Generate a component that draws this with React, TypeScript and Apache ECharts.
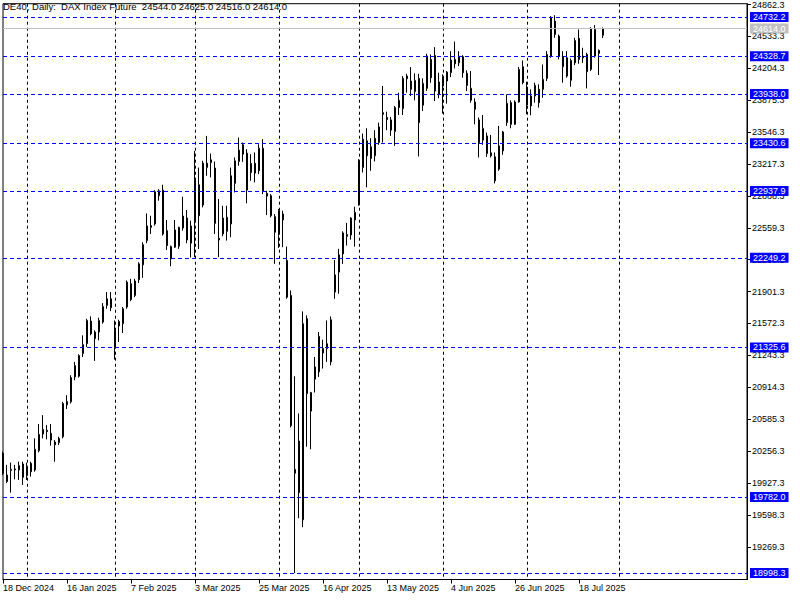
import React, { useEffect, useRef } from "react";
import * as echarts from "echarts";

// ---- Data ----
const headerText = "DE40, Daily:  DAX Index Future  24544.0 24625.0 24516.0 24614.0";

// Trading days per month (category axis), including empty future days at the right
const dec2024 = [18, 19, 20, 23, 27, 30];
const jan2025 = [2, 3, 6, 7, 8, 9, 10, 13, 14, 15, 16, 17, 20, 21, 22, 23, 24, 27, 28, 29, 30, 31];
const feb2025 = [3, 4, 5, 6, 7, 10, 11, 12, 13, 14, 17, 18, 19, 20, 21, 24, 25, 26, 27, 28];
const mar2025 = [3, 4, 5, 6, 7, 10, 11, 12, 13, 14, 17, 18, 19, 20, 21, 24, 25, 26, 27, 28, 31];
const apr2025 = [1, 2, 3, 4, 7, 8, 9, 10, 11, 14, 15, 16, 17, 22, 23, 24, 25, 28, 29, 30];
const may2025 = [2, 5, 6, 7, 8, 9, 12, 13, 14, 15, 16, 19, 20, 21, 22, 23, 26, 27, 28, 29, 30];
const jun2025 = [2, 3, 4, 5, 6, 9, 10, 11, 12, 13, 16, 17, 18, 19, 20, 23, 24, 25, 26, 27, 30];
const jul2025 = [1, 2, 3, 4, 7, 8, 9, 10, 11, 14, 15, 16, 17, 18, 21, 22, 23, 24, 25, 28, 29, 30, 31];
const aug2025 = [1, 4, 5, 6, 7, 8, 11, 12, 13, 14, 15, 18, 19, 20, 21, 22, 25, 26, 27, 28, 29];
const sep2025 = [1, 2, 3, 4, 5, 8, 9, 10, 11, 12, 15, 16];

const monthGroups: [number, string, number[]][] = [
  [2024, "Dec", dec2024],
  [2025, "Jan", jan2025],
  [2025, "Feb", feb2025],
  [2025, "Mar", mar2025],
  [2025, "Apr", apr2025],
  [2025, "May", may2025],
  [2025, "Jun", jun2025],
  [2025, "Jul", jul2025],
  [2025, "Aug", aug2025],
  [2025, "Sep", sep2025],
];

// Daily candles [open, high, low, close]
const ohlc: number[][] = [
  [20233, 20250, 20010, 20027],
  [20010, 20113, 19925, 19942],
  [20055, 20137, 19828, 20068],
  [20062, 20113, 19965, 20072],
  [20062, 20147, 19959, 20106],
  [20123, 20147, 19907, 19986],
  [20003, 20137, 19959, 20096],
  [20130, 20147, 19993, 20044],
  [20061, 20387, 20044, 20274],
  [20260, 20535, 20243, 20428],
  [20432, 20627, 20387, 20480],
  [20470, 20524, 20377, 20458],
  [20439, 20535, 20312, 20370],
  [20350, 20370, 20147, 20322],
  [20343, 20404, 20319, 20387],
  [20404, 20764, 20387, 20747],
  [20733, 20833, 20689, 20768],
  [20764, 21039, 20747, 21015],
  [21021, 21176, 20987, 21138],
  [21028, 21255, 21015, 21241],
  [21262, 21450, 21227, 21354],
  [21364, 21621, 21330, 21604],
  [21597, 21646, 21450, 21467],
  [21416, 21501, 21186, 21484],
  [21484, 21632, 21399, 21604],
  [21587, 21783, 21570, 21748],
  [21759, 21896, 21724, 21827],
  [21827, 21896, 21700, 21735],
  [21323, 21604, 21200, 21502],
  [21546, 21611, 21381, 21594],
  [21570, 21742, 21474, 21724],
  [21742, 22016, 21724, 21999],
  [21982, 22033, 21803, 21820],
  [21861, 22033, 21844, 22010],
  [22023, 22204, 21990, 22187],
  [22177, 22410, 22043, 22386],
  [22427, 22708, 22400, 22578],
  [22581, 22684, 22496, 22564],
  [22599, 22948, 22581, 22931],
  [22890, 22959, 22839, 22941],
  [22948, 23003, 22479, 22496],
  [22530, 22640, 22331, 22376],
  [22365, 22376, 22163, 22239],
  [22359, 22640, 22352, 22537],
  [22369, 22571, 22341, 22564],
  [22557, 22880, 22530, 22681],
  [22660, 22743, 22400, 22434],
  [22400, 22633, 22252, 22578],
  [22626, 23353, 22256, 23061],
  [23003, 23181, 22341, 22684],
  [22794, 23250, 22770, 23226],
  [23181, 23507, 23096, 23226],
  [23260, 23325, 23079, 23233],
  [23175, 23243, 22496, 22605],
  [22451, 22856, 22256, 22434],
  [22496, 22787, 22472, 22660],
  [22667, 22787, 22427, 22523],
  [22599, 23181, 22462, 23096],
  [23017, 23284, 22924, 23250],
  [23243, 23490, 23199, 23360],
  [23415, 23439, 23240, 23319],
  [23329, 23370, 22811, 22948],
  [23223, 23319, 23044, 23130],
  [23123, 23336, 23027, 23226],
  [23147, 23421, 23113, 23380],
  [23380, 23473, 22907, 22941],
  [22914, 22941, 22691, 22886],
  [22890, 22907, 22667, 22684],
  [22674, 22701, 22187, 22513],
  [22506, 22753, 22352, 22736],
  [22701, 22736, 22359, 22640],
  [22222, 22366, 21827, 21844],
  [21862, 21913, 20500, 20518],
  [20027, 21028, 18998, 20068],
  [20360, 20644, 19564, 19828],
  [19547, 21697, 19472, 21570],
  [21622, 21656, 20301, 20850],
  [20668, 20867, 20274, 20860],
  [20998, 21227, 20860, 21124],
  [21073, 21484, 21021, 21440],
  [21313, 21405, 21107, 21268],
  [21313, 21604, 21176, 21364],
  [21176, 21645, 21141, 21611],
  [21896, 22228, 21827, 22074],
  [22102, 22342, 21879, 22280],
  [22290, 22523, 22187, 22506],
  [22489, 22610, 22376, 22472],
  [22485, 22667, 22437, 22660],
  [22640, 22777, 22365, 22719],
  [22794, 23267, 22787, 23250],
  [23181, 23531, 23130, 23473],
  [23456, 23586, 22976, 23302],
  [23394, 23483, 23147, 23274],
  [23302, 23566, 23243, 23483],
  [23439, 23644, 23415, 23600],
  [23747, 24022, 23439, 23730],
  [23696, 23757, 23566, 23675],
  [23672, 23703, 23507, 23566],
  [23552, 23816, 23404, 23799],
  [23799, 23953, 23723, 23874],
  [23788, 24124, 23723, 24100],
  [24124, 24148, 23953, 24097],
  [24073, 24217, 23919, 23987],
  [23963, 24152, 23874, 24080],
  [24100, 24148, 23295, 23644],
  [23823, 24100, 23764, 24049],
  [23997, 24354, 23970, 24330],
  [24296, 24347, 24056, 24107],
  [24337, 24423, 23867, 23970],
  [23936, 24159, 23895, 24063],
  [24021, 24142, 23737, 24117],
  [24073, 24176, 23840, 24165],
  [24159, 24381, 24114, 24289],
  [24296, 24480, 24203, 24251],
  [24261, 24381, 24227, 24330],
  [24323, 24340, 24107, 24159],
  [24152, 24183, 23970, 24028],
  [23997, 24176, 23850, 23874],
  [23857, 23895, 23627, 23782],
  [23672, 23696, 23284, 23439],
  [23463, 23723, 23415, 23586],
  [23507, 23542, 23291, 23326],
  [23332, 23517, 23284, 23302],
  [23291, 23336, 23017, 23044],
  [23164, 23610, 23147, 23404],
  [23353, 23559, 23312, 23548],
  [23644, 23936, 23610, 23843],
  [23850, 23874, 23586, 23627],
  [23627, 23874, 23620, 23857],
  [23857, 24217, 23850, 24193],
  [24220, 24285, 24039, 24056],
  [24011, 24066, 23730, 23826],
  [23816, 23987, 23720, 23919],
  [23919, 24056, 23850, 24028],
  [23987, 24039, 23799, 23850],
  [23987, 24244, 23901, 24090],
  [24100, 24381, 24073, 24347],
  [24330, 24742, 24313, 24731],
  [24690, 24752, 24519, 24553],
  [24536, 24553, 24296, 24330],
  [24220, 24381, 24056, 24320],
  [24313, 24381, 24107, 24124],
  [24080, 24306, 24015, 24285],
  [24261, 24519, 24237, 24491],
  [24512, 24604, 24251, 24296],
  [24330, 24416, 24261, 24313],
  [24347, 24364, 23997, 24169],
  [24193, 24628, 24176, 24615],
  [24604, 24649, 24313, 24330],
  [24358, 24399, 24135, 24388],
  [24544, 24625, 24516, 24614],
];

// Price axis tick labels
const yTickLabels = [
  19269.3, 19598.3, 19927.3, 20256.3, 20585.3, 20914.3, 21243.3, 21572.3, 21901.3,
  22230.3, 22559.3, 22888.3, 23217.3, 23546.3, 23875.3, 24204.3, 24533.3, 24862.3,
];
const yMin = 18931.7;
const yMax = 24870.5;

// Horizontal levels (blue dashed) and current price (gray)
const levels = [24732.2, 24328.7, 23938.0, 23430.6, 22937.9, 22249.2, 21325.6, 19782.0, 18998.3];
const currentPrice = 24614.0;

const labelEvery = 16;
const lastLabelIndex = 144;
const lastGridIndex = 160; // month separators drawn only up to early August

const FONT = "Liberation Sans";

export default function App() {
  const ref = useRef<HTMLDivElement>(null);

  useEffect(() => {
    document.body.style.margin = "0";
    if (!ref.current) return;
    const chart = echarts.init(ref.current, undefined, { renderer: "svg" });

    const categories: string[] = [];
    const monthStart = new Set<number>();
    monthGroups.forEach(([year, mon, days], gi) => {
      days.forEach((d, di) => {
        if (gi > 0 && di === 0 && categories.length <= lastGridIndex) monthStart.add(categories.length);
        categories.push(`${d} ${mon} ${year}`);
      });
    });

    const showLabel = (i: number) => i % labelEvery === 0 && i <= lastLabelIndex;

    const levelLines: any[] = levels.map((v) => ({
      yAxis: v,
      lineStyle: { color: "#0000ff", type: [4, 3], width: 1 },
      label: {
        show: true,
        position: "end",
        distance: 3,
        formatter: () => v.toFixed(1),
        color: "#ffffff",
        backgroundColor: "#0000ff",
        padding: [1, 3, 0, 3],
        lineHeight: 9,
        fontSize: 9,
        fontFamily: FONT,
      },
    }));
    levelLines.push({
      yAxis: currentPrice,
      lineStyle: { color: "#c0c0c0", type: "solid", width: 1 },
      label: {
        show: true,
        position: "end",
        distance: 3,
        formatter: () => currentPrice.toFixed(1),
        color: "#ffffff",
        backgroundColor: "#c0c0c0",
        padding: [1, 3, 0, 3],
        lineHeight: 9,
        fontSize: 9,
        fontFamily: FONT,
      },
    });

    chart.setOption({
      animation: false,
      backgroundColor: "#ffffff",
      textStyle: { fontFamily: FONT },
      grid: {
        left: 2.5,
        right: 53,
        top: 2.5,
        bottom: 20.5,
        show: true,
        borderColor: "#000",
        borderWidth: 1,
        backgroundColor: "transparent",
      },
      graphic: [
        {
          type: "text",
          left: 3,
          top: 1,
          z: 100,
          style: { text: headerText, fontSize: 9.5, fontFamily: FONT, fill: "#000" },
        },
      ],
      xAxis: {
        type: "category",
        data: categories,
        boundaryGap: false,
        axisLine: { show: true, lineStyle: { color: "#000", width: 1 } },
        axisTick: {
          show: true,
          length: 4,
          interval: (i: number) => showLabel(i),
          lineStyle: { color: "#000" },
        },
        axisLabel: {
          interval: (i: number) => showLabel(i),
          align: "left",
          margin: 4,
          color: "#000",
          fontSize: 9,
          fontFamily: FONT,
        },
        splitLine: {
          show: true,
          interval: (i: number) => monthStart.has(i),
          lineStyle: { color: "#000", type: [3, 3], width: 1 },
        },
      },
      yAxis: {
        type: "value",
        position: "right",
        min: yMin,
        max: yMax,
        scale: true,
        axisLine: { show: true, lineStyle: { color: "#000", width: 1 } },
        axisTick: { show: true, length: 4, customValues: yTickLabels, lineStyle: { color: "#000" } },
        axisLabel: {
          customValues: yTickLabels,
          formatter: (v: number) => Number(v).toFixed(1),
          margin: 5,
          color: "#000",
          fontSize: 9,
          fontFamily: FONT,
        },
        splitLine: { show: false },
      },
      series: [
        {
          type: "candlestick",
          clip: false,
          barWidth: 2,
          data: ohlc.map(([o, h, l, c]) => [o, c, l, h]),
          itemStyle: {
            color: "#ffffff",
            color0: "#000000",
            borderColor: "#000000",
            borderColor0: "#000000",
            borderColorDoji: "#000000",
            borderWidth: 1,
          },
          markLine: {
            silent: true,
            symbol: ["none", "none"],
            animation: false,
            precision: 1,
            data: levelLines,
          },
        },
      ],
    });

    return () => chart.dispose();
  }, []);

  return <div ref={ref} style={{ width: 800, height: 600 }} />;
}
